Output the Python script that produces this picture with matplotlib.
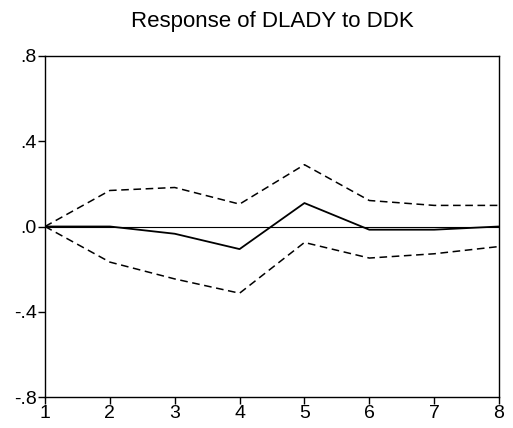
import matplotlib
matplotlib.use("Agg")
import matplotlib.pyplot as plt

plt.rcParams['font.family'] = ['Liberation Sans', 'DejaVu Sans']

periods = [1, 2, 3, 4, 5, 6, 7, 8]
response = [0.0, 0.0, -0.034, -0.106, 0.110, -0.015, -0.015, 0.0]
upper_band = [0.0, 0.169, 0.183, 0.105, 0.290, 0.122, 0.099, 0.099]
lower_band = [0.0, -0.167, -0.246, -0.313, -0.075, -0.148, -0.128, -0.094]

yticks = [-0.8, -0.4, 0.0, 0.4, 0.8]
ytick_labels = ["-.8", "-.4", ".0", ".4", ".8"]

fig = plt.figure(figsize=(5.13, 4.28), dpi=100)
ax = fig.add_axes([45 / 513, 1 - 397 / 428, 454 / 513, 341 / 428])

ax.axhline(0, color="black", linewidth=0.8)
ax.plot(periods, response, color="black", linewidth=1.3)
ax.plot(periods, upper_band, color="black", linewidth=1.1, linestyle=(0, (5, 3)))
ax.plot(periods, lower_band, color="black", linewidth=1.1, linestyle=(0, (5, 3)))

ax.set_xlim(1, 8)
ax.set_ylim(-0.8, 0.8)
ax.set_xticks(periods)
ax.set_xticklabels([str(p) for p in periods])
ax.set_yticks(yticks)
ax.set_yticklabels(ytick_labels)
ax.tick_params(direction="out", length=5, width=1, labelsize=14, pad=1,
               top=False, right=False)
for s in ax.spines.values():
    s.set_linewidth(1.0)

fig.text(272 / 513, 1 - 21 / 428, "Response of DLADY to DDK",
         ha="center", va="center", fontsize=16)

fig.savefig("out.png", dpi=100)
